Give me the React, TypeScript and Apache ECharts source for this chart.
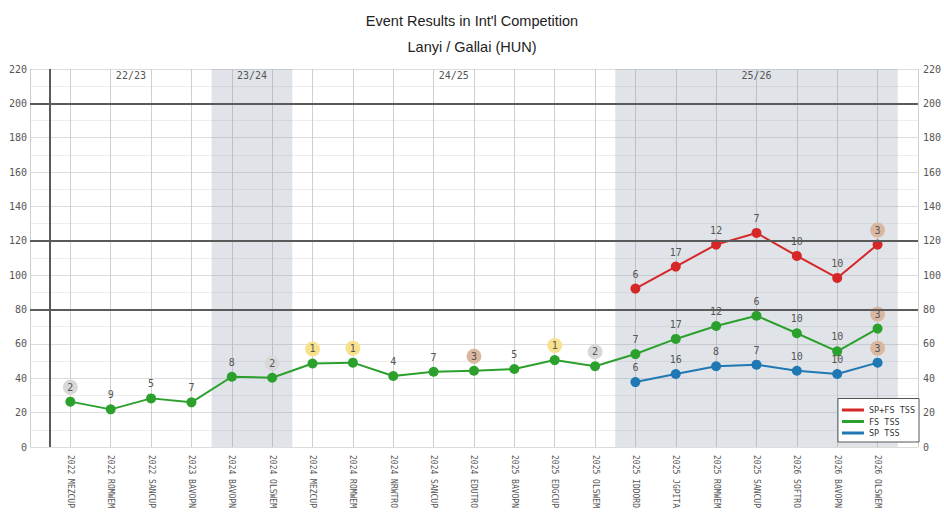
import React, { useEffect, useRef } from "react";
import * as echarts from "echarts";

const categories = [
  "2022 MEZCUP", "2022 ROMWEM", "2022 SANCUP", "2023 BAVOPN", "2024 BAVOPN",
  "2024 OLSWEM", "2024 MEZCUP", "2024 ROMWEM", "2024 NRWTRO", "2024 SANCUP",
  "2024 EDUTRO", "2025 BAVOPN", "2025 EDGCUP", "2025 OLSWEM", "2025 IDDORD",
  "2025 JGPITA", "2025 ROMWEM", "2025 SANCUP", "2026 SOFTRO", "2026 BAVOPN",
  "2026 OLSWEM",
];

const fsTss = [26.4, 21.9, 28.3, 26.0, 40.9, 40.3, 48.6, 49.1, 41.3, 43.8, 44.4, 45.4, 50.6, 47.0, 54.1, 62.9, 70.4, 76.4, 66.2, 55.7, 68.9];
const fsRank = [2, 9, 5, 7, 8, 2, 1, 1, 4, 7, 3, 5, 1, 2, 7, 17, 12, 6, 10, 10, 3];

const spFirstIndex = 14;
const spTss = [37.8, 42.5, 47.0, 47.9, 44.4, 42.5, 49.1];
const spRank = [6, 16, 8, 7, 10, 10, 3];

const totalTss = [92.2, 105.0, 117.8, 124.6, 111.2, 98.4, 117.8];
const totalRank = [6, 17, 12, 7, 10, 10, 3];

const seasonNames = ["22/23", "23/24", "24/25", "25/26"];
const seasonFirst = [0, 4, 6, 14];
const seasonLast = [3, 5, 13, 20];
const seasonShaded = [false, true, false, true];

const thresholdLines = [200, 120, 80];

const MONO = "'DejaVu Sans Mono', 'Liberation Mono', monospace";
const LABEL_COLOR = "#555";
const TITLE_FONT = "'Liberation Sans Narrow', 'Arial Narrow', 'Liberation Sans', sans-serif";

function medal(rank: number) {
  if (rank === 1) return "g";
  if (rank === 2) return "s";
  if (rank === 3) return "b";
  return "n";
}

function circleStyle(bg: string) {
  return {
    backgroundColor: bg,
    borderRadius: 7.5,
    width: 15,
    height: 15,
    lineHeight: 15,
    align: "center" as const,
    fontFamily: MONO,
    fontSize: 10,
    color: LABEL_COLOR,
  };
}

const rankLabel = {
  show: true,
  position: "top" as const,
  distance: 2,
  fontFamily: MONO,
  fontSize: 10,
  color: LABEL_COLOR,
  formatter: (p: any) => {
    const r = p.data.rank;
    const k = medal(r);
    return `{${k}|${r}}`;
  },
  rich: {
    g: circleStyle("#f8e08c"),
    s: circleStyle("#d8d8d8"),
    b: circleStyle("#dab7a0"),
    n: { fontFamily: MONO, fontSize: 10, color: LABEL_COLOR, lineHeight: 15 },
  },
};

function build(values: number[], ranks: number[], offset: number) {
  return values.map((v, i) => ({ value: [i + offset, v], rank: ranks[i] }));
}

export default function App() {
  const ref = useRef<HTMLDivElement>(null);

  useEffect(() => {
    if (!ref.current) return;
    const chart = echarts.init(ref.current, undefined, { renderer: "svg" });

    const markAreaData = seasonNames.map((name, i) => [
      {
        name,
        xAxis: seasonFirst[i] - 0.5,
        itemStyle: { color: seasonShaded[i] ? "rgba(140,155,175,0.27)" : "rgba(0,0,0,0)" },
      },
      { xAxis: seasonLast[i] + 0.5 },
    ]);

    const option: any = {
      animation: false,
      backgroundColor: "#fff",
      title: [
        {
          text: "Event Results in Int'l Competition",
          left: "center",
          top: 8,
          textStyle: { fontFamily: TITLE_FONT, fontSize: 14.5, fontWeight: "normal", color: "#222" },
        },
        {
          text: "Lanyi / Gallai (HUN)",
          left: "center",
          top: 34,
          textStyle: { fontFamily: TITLE_FONT, fontSize: 14.5, fontWeight: "normal", color: "#222" },
        },
      ],
      legend: {
        data: ["SP+FS TSS", "FS TSS", "SP TSS"],
        orient: "vertical",
        right: 25,
        bottom: 71,
        icon: "rect",
        itemWidth: 22,
        itemHeight: 3,
        itemGap: 0.5,
        padding: [6, 4, 3.5, 4],
        backgroundColor: "#fff",
        borderColor: "#555",
        borderWidth: 1,
        borderRadius: 0,
        textStyle: { fontFamily: MONO, fontSize: 8.5, color: "#333", lineHeight: 11 },
      },
      grid: { left: 30, right: 21, top: 69, bottom: 66 },
      xAxis: {
        type: "value",
        min: -1,
        max: 21,
        interval: 1,
        axisLine: { show: false },
        axisTick: { show: false },
        splitLine: { show: true, lineStyle: { color: "#cfcfcf", width: 1 } },
        axisLabel: {
          rotate: -90,
          margin: 8,
          fontFamily: MONO,
          fontSize: 8,
          color: LABEL_COLOR,
          formatter: (v: number) => (v >= 0 && v < categories.length ? categories[v] : ""),
        },
      },
      yAxis: [
        {
          type: "value",
          min: 0,
          max: 220,
          interval: 20,
          position: "left",
          axisLine: { show: false },
          axisTick: { show: false },
          axisLabel: { margin: 3, fontFamily: MONO, fontSize: 10, color: LABEL_COLOR },
          splitLine: { show: true, lineStyle: { color: "#dcdcdc" } },
          minorTick: { show: false, splitNumber: 2 },
          minorSplitLine: { show: true, lineStyle: { color: "#ededed" } },
        },
        {
          type: "value",
          min: 0,
          max: 220,
          interval: 20,
          position: "right",
          axisLine: { show: false },
          axisTick: { show: false },
          axisLabel: { margin: 5, fontFamily: MONO, fontSize: 10, color: LABEL_COLOR },
          splitLine: { show: false },
        },
      ],
      series: [
        {
          name: "seasons",
          type: "line",
          data: [],
          z: 1,
          silent: true,
          markArea: {
            silent: true,
            label: {
              show: true,
              position: "insideTop",
              distance: 1,
              fontFamily: MONO,
              fontSize: 10,
              color: LABEL_COLOR,
            },
            data: markAreaData,
          },
          markLine: {
            silent: true,
            symbol: "none",
            label: { show: false },
            lineStyle: { color: "#5a5a5a", width: 2, type: "solid" },
            data: [
              ...thresholdLines.map((y) => ({ yAxis: y })),
              { xAxis: -0.5 },
            ],
          },
        },
        {
          name: "SP+FS TSS",
          type: "line",
          data: build(totalTss, totalRank, spFirstIndex),
          color: "#d62728",
          symbol: "circle",
          symbolSize: 10,
          lineStyle: { width: 2 },
          label: rankLabel,
          z: 3,
        },
        {
          name: "FS TSS",
          type: "line",
          data: build(fsTss, fsRank, 0),
          color: "#2ca02c",
          symbol: "circle",
          symbolSize: 10,
          lineStyle: { width: 2 },
          label: rankLabel,
          z: 3,
        },
        {
          name: "SP TSS",
          type: "line",
          data: build(spTss, spRank, spFirstIndex),
          color: "#1f77b4",
          symbol: "circle",
          symbolSize: 10,
          lineStyle: { width: 2 },
          label: rankLabel,
          z: 3,
        },
      ],
    };

    chart.setOption(option);
    return () => chart.dispose();
  }, []);

  return (
    <div
      ref={ref}
      style={{ position: "fixed", left: 0, top: 0, width: 944, height: 513 }}
    />
  );
}
